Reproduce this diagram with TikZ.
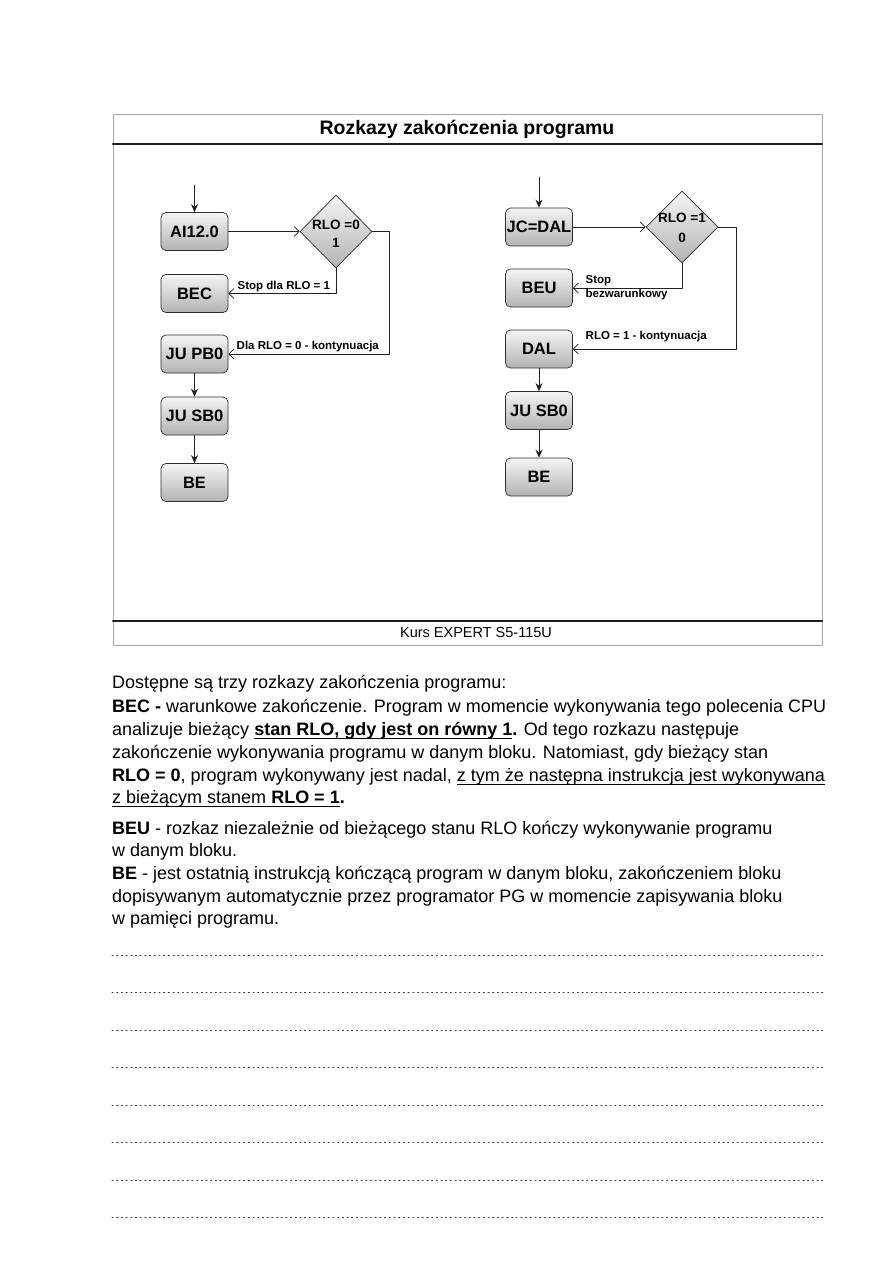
\documentclass[tikz,border=0pt]{standalone}
\usepackage{fontspec}
\setmainfont{Liberation Sans}
\usepackage{tikz}
\usetikzlibrary{arrows.meta, positioning, calc, shapes.geometric}

% podkreslenie na stalej glebokosci
\newcommand{\podkr}[1]{\setbox0\hbox{#1}\rlap{\rule[-3.6pt]{\wd0}{1.1pt}}\box0}

\tikzset{
    blok/.style={draw=gray!35!black, line width=0.7pt, rounded corners=5pt,
        top color=gray!8, bottom color=gray!60, minimum width=67pt,
        minimum height=38pt, inner sep=0pt, text=black,
        font=\fontsize{16.5}{20}\selectfont\bfseries},
    romb/.style={diamond, draw=gray!35!black, line width=0.7pt,
        top color=gray!8, bottom color=gray!60, minimum width=72pt,
        minimum height=73pt, inner sep=0pt},
    rombtxt/.style={align=center, inner sep=0pt,
        font=\fontsize{13.5}{18}\selectfont\bfseries},
    etyk/.style={inner sep=1.5pt, font=\fontsize{11.5}{14}\selectfont\bfseries},
    pelna/.style={-{Stealth[length=8pt, width=7pt]}, line width=0.8pt, draw=gray!25!black},
    otwarta/.style={-{Straight Barb[length=5pt, width=10pt]}, line width=0.7pt, draw=gray!25!black},
    tekst/.style={anchor=base west, inner sep=0pt, font=\fontsize{18}{22}\selectfont},
}

\begin{document}
\begin{tikzpicture}[x=1pt, y=-1pt, >=Stealth, line cap=round, line join=round]
    \fill[white] (0,0) rectangle (893,1263);
    \useasboundingbox (0,0) rectangle (893,1263);

    % Ramka slajdu
    \draw[gray!70, line width=0.8pt] (113,114) rectangle (822,645);
    \draw[gray!25!black, line width=2.2pt] (113,144) -- (822,144);
    \draw[gray!25!black, line width=2.2pt] (113,621) -- (822,621);
    \node[font=\fontsize{19.5}{22}\selectfont\bfseries] (tytul) at (467,129) {Rozkazy zakończenia programu};
    \node[font=\fontsize{14.5}{16}\selectfont] (stopka) at (476,633) {Kurs EXPERT S5-115U};

    % Lewy schemat - BEC
    \coordinate (wejA) at (194.5,185);
    \node[blok] (ai)  at (194.5,231.5) {AI12.0};
    \node[romb] (d1)  at (336,231.5) {};
    \node[rombtxt] (d1t) at ($(d1)+(0,2.5)$) {RLO =0\\1};
    \node[blok] (bec) at (194.5,293.5) {BEC};
    \node[blok] (pb0) at (194.5,354) {JU PB0};
    \node[blok] (sb0) at (194.5,416) {JU SB0};
    \node[blok] (be1) at (194.5,482.5) {BE};

    \draw[pelna] (wejA) -- (ai);
    \draw[otwarta] (ai) -- (d1);
    \draw[otwarta] (d1.south) |- node[etyk, pos=1, anchor=south west, xshift=7.5pt] (lstop) {Stop dla RLO = 1} (bec.east);
    \draw[otwarta] (d1.east) -- ++(17,0) |- node[etyk, pos=1, anchor=south west, xshift=6.5pt] (lkont) {Dla RLO = 0 - kontynuacja} (pb0.east);
    \draw[pelna] (pb0) -- (sb0);
    \draw[pelna] (sb0) -- (be1);

    % Prawy schemat - BEU
    \coordinate (wejB) at (539,177);
    \node[blok] (jc)   at (539,227) {JC=DAL};
    \node[romb, minimum height=72pt] (d2) at (682,227) {};
    \node[rombtxt, font=\fontsize{13.5}{19.5}\selectfont\bfseries] (d2t) at ($(d2)+(0,1)$) {RLO =1\\0};
    \node[blok] (beu)  at (539,288) {BEU};
    \node[blok] (dal)  at (539,349) {DAL};
    \node[blok] (sb0b) at (539,410.5) {JU SB0};
    \node[blok] (be2)  at (539,477) {BE};

    \draw[pelna] (wejB) -- (jc);
    \draw[otwarta] (jc) -- (d2);
    \draw[otwarta] (d2.south) |- node[etyk, pos=1, anchor=west, align=left, xshift=11pt] (lstopb) {Stop\\bezwarunkowy} (beu.east);
    \draw[otwarta] (d2.east) -- ++(18,0) |- node[etyk, pos=1, anchor=south west, xshift=11pt, yshift=5pt] (lkontb) {RLO = 1 - kontynuacja} (dal.east);
    \draw[pelna] (dal) -- (sb0b);
    \draw[pelna] (sb0b) -- (be2);

    % Opis
    \node[tekst] (l1)  at (112,688.5) {Dostępne są trzy rozkazy zakończenia programu:};
    \node[tekst] (l2)  at (112,712.5) {\textbf{BEC -} warunkowe zakończenie. Program w momencie wykonywania tego polecenia CPU};
    \node[tekst] (l3)  at (112,735.5) {analizuje bieżący \podkr{\textbf{stan RLO, gdy jest on równy 1}}\textbf{.} Od tego rozkazu następuje};
    \node[tekst] (l4)  at (112,758.5) {zakończenie wykonywania programu w danym bloku. Natomiast, gdy bieżący stan};
    \node[tekst] (l5)  at (112,781.5) {\textbf{RLO = 0}, program wykonywany jest nadal, \podkr{z tym że następna instrukcja jest wykonywana}};
    \node[tekst] (l6)  at (112,803.5) {\podkr{z bieżącym stanem \textbf{RLO = 1}}\textbf{.}};
    \node[tekst] (l7)  at (112,834.5) {\textbf{BEU} - rozkaz niezależnie od bieżącego stanu RLO kończy wykonywanie programu};
    \node[tekst] (l8)  at (112,856.5) {w danym bloku.};
    \node[tekst] (l9)  at (112,879.5) {\textbf{BE} - jest ostatnią instrukcją kończącą program w danym bloku, zakończeniem bloku};
    \node[tekst] (l10) at (112,902.5) {dopisywanym automatycznie przez programator PG w momencie zapisywania bloku};
    \node[tekst] (l11) at (112,924.5) {w pamięci programu.};

    % Linie do notatek
    \foreach \y in {955, 992.5, 1030, 1067.5, 1105, 1142.5, 1180, 1217.5}{
        \draw[gray!40!black, line width=1pt, dash pattern=on 1pt off 3.7pt] (112,\y) -- (823,\y);
    }

\end{tikzpicture}
\end{document}
